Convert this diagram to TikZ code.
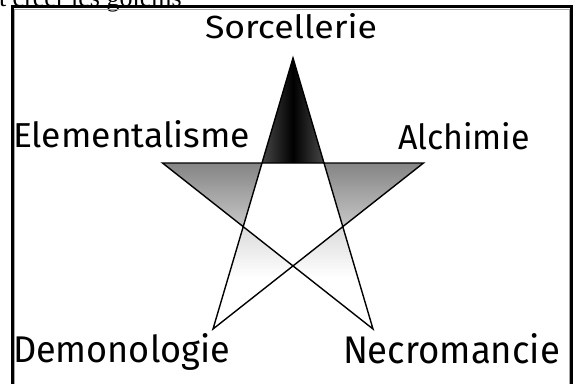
\documentclass[tikz,border=0pt]{standalone}
\usepackage{fontspec}
\setmainfont{Fira Sans}
\newfontfamily\serifc{Liberation Serif}
\begin{document}
\begin{tikzpicture}[x=1pt,y=-1pt,
  star/.style={draw=black,line width=1.4pt,line join=miter},
  lbl/.style={anchor=base west,inner sep=0pt,outer sep=0pt},
  frameline/.style={draw=black,line width=2.6pt},
  innerline/.style={draw=black!35,line width=0.8pt}]
\useasboundingbox (0,0) rectangle (577,383);
\fill[white] (0,0) rectangle (577,383);
% cut caption at the top
\node[lbl,font=\serifc\fontsize{26}{26}\selectfont] (cap) at (-1,6) {t créer les golems};
% frame
\draw[frameline] (12.3,395) -- (12.3,6.5) -- (571.5,6.5) -- (571.5,395);
\draw[innerline] (14.6,395) -- (14.6,9.0) -- (569.2,9.0) -- (569.2,395);
% pentagram points
\coordinate (T) at (293,58);
\coordinate (L) at (162.5,163);
\coordinate (R) at (423.5,163);
\coordinate (BL) at (213,329);
\coordinate (BR) at (373,329);
\coordinate (PTL) at (intersection of T--BL and L--R);
\coordinate (PTR) at (intersection of T--BR and L--R);
\coordinate (PL) at (intersection of L--BR and T--BL);
\coordinate (PR) at (intersection of R--BL and T--BR);
\coordinate (PB) at (intersection of L--BR and R--BL);
% fills
\shade[left color=black!72, right color=black!72, middle color=black] (T) -- (PTL) -- (PTR) -- cycle;
\shade[top color=black!48, bottom color=black!22] (L) -- (PTL) -- (PL) -- cycle;
\shade[top color=black!48, bottom color=black!22] (R) -- (PTR) -- (PR) -- cycle;
\shade[top color=black!14, bottom color=white, middle color=white] (PL) -- (PB) -- (BL) -- cycle;
\shade[top color=black!14, bottom color=white, middle color=white] (PR) -- (PB) -- (BR) -- cycle;
% outline
\draw[star] (T) -- (BL) -- (R) -- (L) -- (BR) -- cycle;
% labels
\node[lbl] (sor) at (205,38) {\resizebox{172pt}{25pt}{Sorcellerie}};
\node[lbl] (ele) at (13,147) {\resizebox{237pt}{27pt}{Elementalisme}};
\node[lbl] (alc) at (398,149) {\resizebox{132pt}{27pt}{Alchimie}};
\node[lbl] (dem) at (13,362) {\resizebox{217pt}{29pt}{Demonologie}};
\node[lbl] (nec) at (343,363) {\resizebox{217pt}{30pt}{Necromancie}};
\end{tikzpicture}
\end{document}
